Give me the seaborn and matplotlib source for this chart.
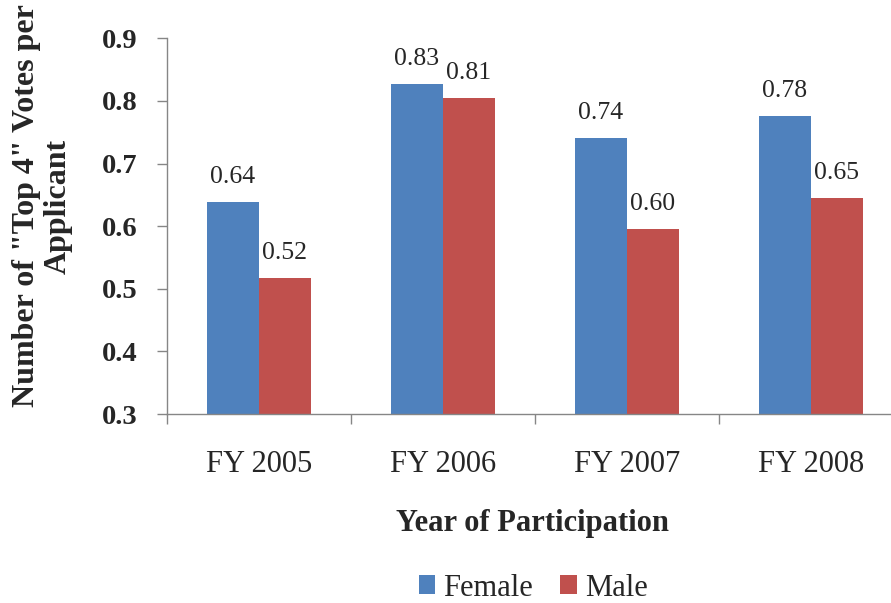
import matplotlib
matplotlib.use('Agg')
import matplotlib.pyplot as plt
import seaborn as sns
import pandas as pd

years = ["FY 2005", "FY 2006", "FY 2007", "FY 2008"]
female = [0.638, 0.827, 0.741, 0.776]
male = [0.517, 0.805, 0.596, 0.645]
yticks = [0.3, 0.4, 0.5, 0.6, 0.7, 0.8, 0.9]

df = pd.DataFrame({
    "Year": years * 2,
    "Gender": ["Female"] * len(years) + ["Male"] * len(years),
    "Votes": female + male,
})

sns.set_style("ticks")
plt.rcParams['font.family'] = ['Liberation Serif', 'DejaVu Serif']

W, H = 891, 603
fig = plt.figure(figsize=(W / 100, H / 100), dpi=100)
ax = fig.add_axes([167 / W, 1 - 414 / H, 1 - 167 / W, (414 - 38.3) / H])

sns.barplot(data=df, x="Year", y="Votes", hue="Gender",
            palette={"Female": "#4F81BD", "Male": "#C0504D"},
            width=0.565, gap=0, saturation=1, errorbar=None,
            linewidth=0, edgecolor='none', ax=ax)

for cont in ax.containers:
    ax.bar_label(cont, fmt='%.2f', padding=10, fontsize=18.5)

ax.set_yticks(yticks)
ax.set_yticklabels([f"{v:.1f}" for v in yticks], fontsize=20.5, fontweight='bold')
ax.set_ylim(0.3, 0.9)
ax.set_xticks(range(len(years)))
ax.set_xticklabels(years, fontsize=22)
ax.set_xticks([i - 0.5 for i in range(len(years) + 1)], minor=True)
ax.set_xlim(-0.5, 3.435)
ax.tick_params(axis='x', which='major', length=0, pad=26)
ax.tick_params(axis='x', which='minor', length=7, width=1, color='#868686')
ax.tick_params(axis='y', length=7, width=1, color='#868686', pad=14)

for s in ['top', 'right']:
    ax.spines[s].set_visible(False)
for s in ['left', 'bottom']:
    ax.spines[s].set_color('#868686')
    ax.spines[s].set_linewidth(1)

ax.set_xlabel("")
ax.set_ylabel("")
fig.text(533 / W, 1 - 524 / H, "Year of Participation", ha='center', va='center',
         fontsize=22, fontweight='bold')
fig.text(42 / W, 1 - 206 / H, 'Number of "Top 4" Votes per\nApplicant', ha='center',
         va='center', rotation=90, multialignment='center', fontsize=23,
         fontweight='bold', linespacing=1.12)

handles, labels = ax.get_legend_handles_labels()
ax.legend_.remove()
fig.legend(handles, labels, loc='center', bbox_to_anchor=(533 / W, 1 - 588 / H),
           ncol=2, frameon=False, fontsize=22, handlelength=0.55, handleheight=0.55,
           handletextpad=0.25, columnspacing=0.9)

fig.savefig("out.png", dpi=100)
